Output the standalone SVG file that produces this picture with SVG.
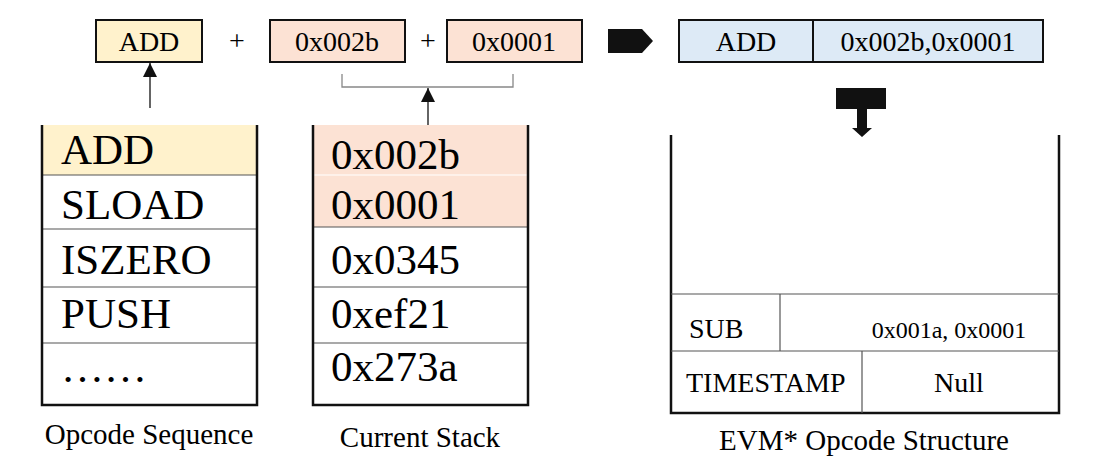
<svg xmlns="http://www.w3.org/2000/svg" width="1104" height="476" viewBox="0 0 1104 476" font-family="'Liberation Serif', 'DejaVu Serif', serif">
<style>
text{fill:#000}
.t28{font-size:28px}
.t43{font-size:43px}
.cap{font-size:29px}
.box{stroke:#111;stroke-width:2}
.side{stroke:#111;stroke-width:2.5;fill:none}
.div{stroke:#555;stroke-width:1.2;fill:none}
.ln{stroke:#111;stroke-width:1.3;fill:none}
</style>
<defs>
<marker id="ah" viewBox="0 0 10 10" refX="10" refY="5" markerWidth="14" markerHeight="14" markerUnits="userSpaceOnUse" orient="auto">
<path d="M0,0 L10,5 L0,10 z" fill="#111"/>
</marker>
</defs>
<rect width="1104" height="476" fill="#fff"/>

<g id="top-add">
<rect class="box" x="96" y="20" width="106" height="42" fill="#FFF2CC"/>
<text class="t28" x="149" y="51" text-anchor="middle" font-family="Liberation Serif">ADD</text>
</g>
<g id="plus1"><text class="t28" x="237" y="50" text-anchor="middle" fill="#333">+</text></g>
<g id="top-002b">
<rect class="box" x="270" y="20" width="135" height="42" fill="#FCE2D4"/>
<text class="t28" x="337" y="51" text-anchor="middle">0x002b</text>
</g>
<g id="plus2"><text class="t28" x="428" y="50" text-anchor="middle" fill="#333">+</text></g>
<g id="top-0001">
<rect class="box" x="447" y="20" width="135" height="42" fill="#FCE2D4"/>
<text class="t28" x="514" y="51" text-anchor="middle">0x0001</text>
</g>

<g id="combined">
<rect class="box" x="679" y="20" width="364" height="42" fill="#DDEAF6"/>
<line class="box" x1="813" y1="20" x2="813" y2="62"/>
<text class="t28" x="746" y="51" text-anchor="middle">ADD</text>
<text class="t28" x="928" y="51" text-anchor="middle">0x002b,0x0001</text>
</g>

<g id="opcode-sequence">
<rect x="42" y="125" width="215" height="50" fill="#FFF2CC"/>
<line class="div" x1="42" y1="175" x2="257" y2="175"/>
<line class="div" x1="42" y1="229" x2="257" y2="229"/>
<line class="div" x1="42" y1="287" x2="257" y2="287"/>
<line class="div" x1="42" y1="343" x2="257" y2="343"/>
<path class="side" d="M42,125 V405 H257 V125"/>
<text class="t43" x="61" y="164">ADD</text>
<text class="t43" x="61" y="219">SLOAD</text>
<text class="t43" x="61" y="274">ISZERO</text>
<text class="t43" x="61" y="328">PUSH</text>
<text class="t43" x="61" y="382">……</text>
<text class="cap" x="149" y="444" text-anchor="middle">Opcode Sequence</text>
</g>

<g id="current-stack">
<rect x="313" y="125" width="215" height="102" fill="#FCE2D4"/>
<line x1="313" y1="175" x2="528" y2="175" stroke="#fff" stroke-width="1.2"/>
<line class="div" x1="313" y1="227" x2="528" y2="227"/>
<line class="div" x1="313" y1="287" x2="528" y2="287"/>
<line class="div" x1="313" y1="343" x2="528" y2="343"/>
<path class="side" d="M313,125 V405 H528 V125"/>
<text class="t43" x="331" y="169">0x002b</text>
<text class="t43" x="331" y="219">0x0001</text>
<text class="t43" x="331" y="274">0x0345</text>
<text class="t43" x="331" y="328">0xef21</text>
<text class="t43" x="331" y="381">0x273a</text>
<text class="cap" x="420" y="447" text-anchor="middle">Current Stack</text>
</g>

<g id="evm-structure">
<path class="side" d="M671,135 V413 H1059 V135"/>
<line class="div" x1="671" y1="294" x2="1059" y2="294"/>
<line class="div" x1="671" y1="351" x2="1059" y2="351"/>
<line class="div" x1="780" y1="294" x2="780" y2="351"/>
<line class="div" x1="862" y1="351" x2="862" y2="413"/>
<text class="t28" x="689" y="338">SUB</text>
<text x="949" y="338" text-anchor="middle" font-size="24">0x001a, 0x0001</text>
<text class="t28" x="686" y="392">TIMESTAMP</text>
<text class="t28" x="959" y="392" text-anchor="middle">Null</text>
<text class="cap" x="864" y="450" text-anchor="middle">EVM* Opcode Structure</text>
</g>

<g id="connectors">
<line class="ln" x1="150" y1="108" x2="150" y2="63" marker-end="url(#ah)"/>
<path d="M342,74 V87 H513 V74" fill="none" stroke="#888" stroke-width="1.3"/>
<line class="ln" x1="428" y1="125" x2="428" y2="88" marker-end="url(#ah)"/>
<path d="M608,29 H642 L653,41 L642,53 H608 z" fill="#111"/>
<path d="M836,88 H886 V109 H867 V128 H872 L862,137 L852,128 H857 V109 H836 z" fill="#111"/>
</g>
</svg>
